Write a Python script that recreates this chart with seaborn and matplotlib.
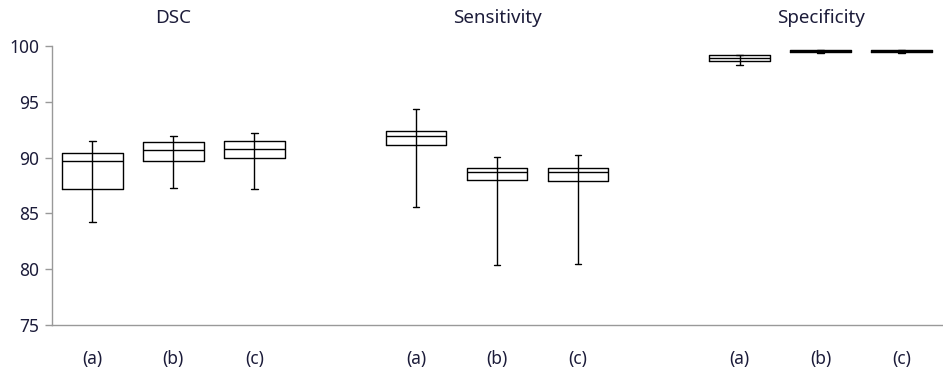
import matplotlib
matplotlib.use("Agg")
import matplotlib.pyplot as plt
import pandas as pd
import seaborn as sns

# Box statistics (percent)
metrics = ["DSC", "Sensitivity", "Specificity"]
methods = ["(a)", "(b)", "(c)"]

dsc_low = [84.26, 87.30, 87.21]
dsc_q1 = [87.21, 89.72, 89.99]
dsc_med = [89.72, 90.71, 90.80]
dsc_q3 = [90.44, 91.43, 91.49]
dsc_high = [91.50, 91.94, 92.23]

sens_low = [85.57, 80.38, 80.47]
sens_q1 = [91.16, 87.99, 87.90]
sens_med = [91.96, 88.71, 88.68]
sens_q3 = [92.41, 89.10, 89.10]
sens_high = [94.38, 90.08, 90.26]

spec_low = [98.27, 99.35, 99.35]
spec_q1 = [98.63, 99.44, 99.44]
spec_med = [98.95, 99.52, 99.52]
spec_q3 = [99.17, 99.60, 99.60]
spec_high = [99.10, 99.58, 99.58]

yticks = [75, 80, 85, 90, 95, 100]

stats = {
    "DSC": (dsc_low, dsc_q1, dsc_med, dsc_q3, dsc_high),
    "Sensitivity": (sens_low, sens_q1, sens_med, sens_q3, sens_high),
    "Specificity": (spec_low, spec_q1, spec_med, spec_q3, spec_high),
}

# category order with an empty slot between metric groups
order = []
for i, m in enumerate(metrics):
    order += [f"{m} {k}" for k in methods]
    if i < len(metrics) - 1:
        order.append(f"gap{i}")

rows = []
for m in metrics:
    low, q1, med, q3, high = stats[m]
    for j, k in enumerate(methods):
        for v in (low[j], q1[j], med[j], q3[j], max(high[j], q3[j])):
            rows.append({"slot": f"{m} {k}", "value": v})
df = pd.DataFrame(rows)

sns.set_theme(style="white")
text_color = "#1c1c3a"
plt.rcParams["font.family"] = ["Noto Sans", "DejaVu Sans"]

fig = plt.figure(figsize=(9.43, 3.72), dpi=100)
ax = fig.add_axes([52 / 943, 47 / 372, 890 / 943, 279 / 372])

sns.boxplot(data=df, x="slot", y="value", order=order, whis=(0, 100),
            fill=False, color="black", linecolor="black", linewidth=1.0,
            width=0.75, showfliers=False, ax=ax)

# hi-lo line through each box, Excel style
for m in metrics:
    low, q1, med, q3, high = stats[m]
    for j, k in enumerate(methods):
        pos = order.index(f"{m} {k}")
        ax.vlines(pos, q1[j], q3[j], color="black", linewidth=1.0)

# shrink whisker caps
for line in ax.lines:
    xd = line.get_xdata()
    yd = line.get_ydata()
    if len(xd) == 2 and yd[0] == yd[1] and abs(xd[1] - xd[0]) < 0.5 and abs(xd[1] - xd[0]) > 0.01:
        c = (xd[0] + xd[1]) / 2
        line.set_xdata([c - 0.04, c + 0.04])

ax.set_xlim(-0.5, len(order) - 0.5)
ax.set_ylim(75, 100)
ax.set_yticks(yticks)
ax.set_yticklabels([str(t) for t in yticks], color=text_color, fontsize=12.5)

ax.set_xticks([i - 0.5 for i in range(len(order) + 1)])
ax.set_xticklabels([])
ax.set_xticks(range(len(order)), minor=True)
ax.set_xticklabels([s.split(" ")[-1] if not s.startswith("gap") else "" for s in order],
                   minor=True, color=text_color, fontsize=12.5)
ax.tick_params(axis="x", which="major", length=6, color="#999999", width=1, direction="out")
ax.tick_params(axis="x", which="minor", length=0, pad=18)
ax.tick_params(axis="y", length=5, color="#999999", width=1, direction="out", left=True, pad=4)
ax.set_xlabel("")
ax.set_ylabel("")

for side in ["top", "right"]:
    ax.spines[side].set_visible(False)
for side in ["left", "bottom"]:
    ax.spines[side].set_color("#999999")
    ax.spines[side].set_linewidth(1)

# metric titles above the middle box of each group
for m in metrics:
    pos = order.index(f"{m} (b)")
    ax.text(pos, 1.10, m, transform=ax.get_xaxis_transform(), ha="center", va="center",
            color=text_color, fontsize=13.5)

fig.savefig("out.png", dpi=100)
